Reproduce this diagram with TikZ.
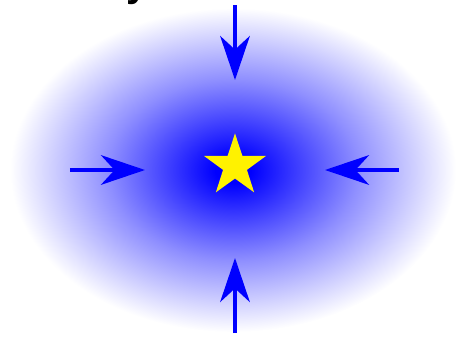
\documentclass[tikz,border=0pt]{standalone}
\usepackage{fontspec}
\setmainfont{Liberation Sans}
\usetikzlibrary{arrows.meta,shapes.geometric}
\pgfdeclareradialshading{glow}{\pgfpoint{0bp}{0bp}}{color(0bp)=(blue); color(2bp)=(blue); color(8bp)=(blue!72!white); color(14bp)=(blue!44!white); color(20bp)=(blue!20!white); color(25bp)=(white); color(50bp)=(white)}

\begin{document}
\begin{tikzpicture}[>={Stealth[length=11mm,width=7.4mm,inset=3.4mm]},
    push/.style={->,blue,line width=2.8pt}]
    \useasboundingbox (-5.875,-4.225) rectangle (5.75,4.25);
    \shade[shading=glow] (-0.05,0) ellipse (5.575 and 4.05);
    \node[star,star points=5,star point ratio=2.6,minimum size=1.63cm,inner sep=0pt,fill=yellow] (core) at (0,0.1) {};
    \node[anchor=base,inner sep=0pt,font=\fontsize{28}{30}\selectfont\bfseries] (cut) at (-2.45,4.33) {y};
    % arrows pushing in
    \coordinate (top) at (0,4.125); \coordinate (topt) at (0,2.25);
    \coordinate (bot) at (0,-4.075); \coordinate (bott) at (0,-2.2);
    \coordinate (lft) at (-4.125,0); \coordinate (lftt) at (-2.25,0);
    \coordinate (rgt) at (4.1,0); \coordinate (rgtt) at (2.25,0);
    \draw[push] (top)--(topt); \draw[push] (bot)--(bott);
    \draw[push] (lft)--(lftt); \draw[push] (rgt)--(rgtt);
\end{tikzpicture}
\end{document}
